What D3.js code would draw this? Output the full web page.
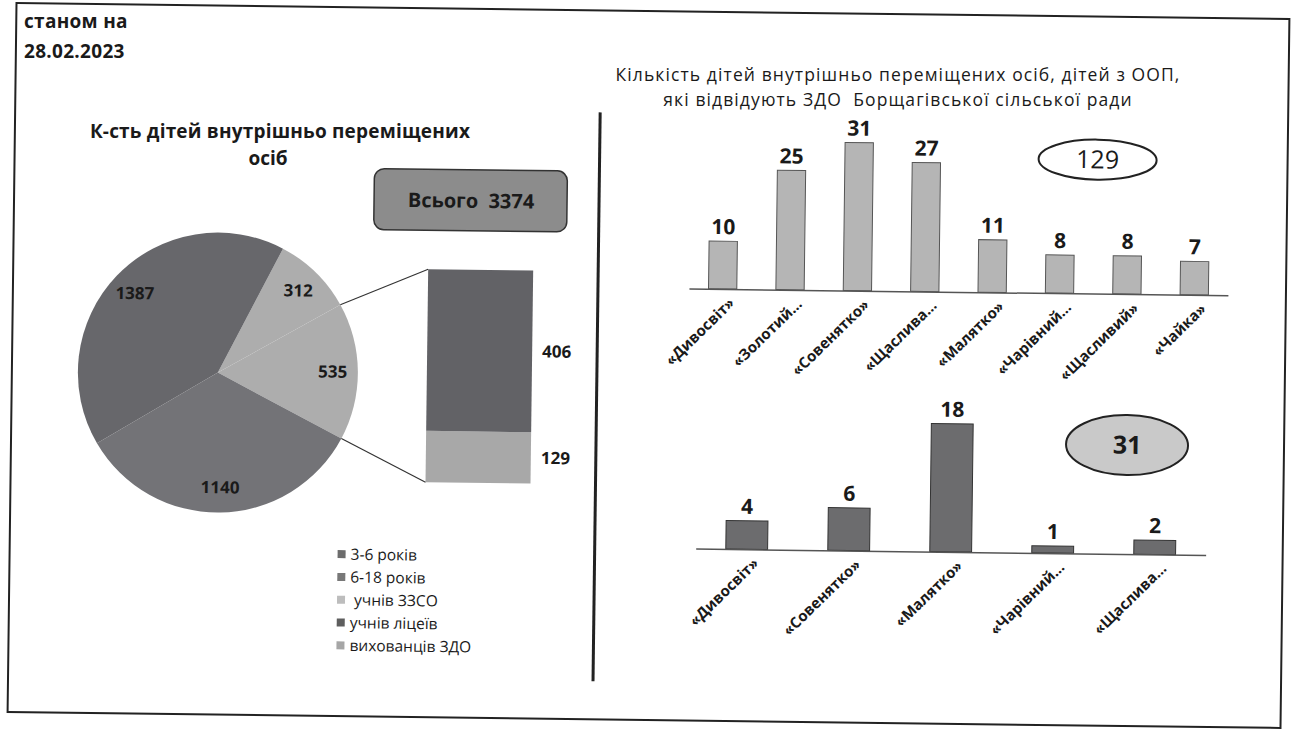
<!DOCTYPE html>
<html>
<head>
<meta charset="utf-8">
<script src="https://cdn.jsdelivr.net/npm/d3@7"></script>
<style>
  body { margin: 0; background: #fff; }
  svg { display: block; }
  text { font-family: "Open Sans", "Noto Sans", sans-serif; fill: #1a1a1a; }
</style>
</head>
<body>
<svg id="chart" width="1296" height="731"></svg>
<script>
// pie: groups of displaced children
var pieCategories = ["3-6 років", "6-18 років", " учнів ЗЗСО", "учнів ліцеїв", "вихованців ЗДО"];
var pieValues = [1387, 1140, 312, 406, 129];
var pieTotal = 3374;
// slices in clockwise order as they appear, the last two are merged into one slice
var sliceLabels = ["312", "535", "1140", "1387"];
var sliceValues = [312, 406 + 129, 1140, 1387];
// split bar on the right of the pie
var splitLabels = ["129", "406"];
var splitValues = [129, 406];

// top bar chart
var topCategories = ["«Дивосвіт»", "«Золотий…", "«Совенятко»", "«Щаслива…", "«Малятко»", "«Чарівний…", "«Щасливий»", "«Чайка»"];
var topValues = [10, 25, 31, 27, 11, 8, 8, 7];
var topTotal = 129;

// bottom bar chart
var bottomCategories = ["«Дивосвіт»", "«Совенятко»", "«Малятко»", "«Чарівний…", "«Щаслива…"];
var bottomValues = [4, 6, 18, 1, 2];
var bottomTotal = 31;

var svg = d3.select("#chart");
// the scanned page is slightly rotated
var page = svg.append("g").attr("transform", "rotate(0.72,648,365)");
// titles are kept level so their lines don't run into each other
var titles = svg.append("g");

// frame
page.append("rect").attr("x", 12).attr("y", 11).attr("width", 1273).attr("height", 709)
  .attr("fill", "none").attr("stroke", "#222").attr("stroke-width", 2);

titles.append("text").attr("x", 24).attr("y", 28).attr("font-size", 19).attr("font-weight", "bold")
  .attr("letter-spacing", 0.3).text("станом на");
titles.append("text").attr("x", 24).attr("y", 58).attr("font-size", 19).attr("font-weight", "bold")
  .attr("letter-spacing", 0.3).text("28.02.2023");

//////////////////// pie
titles.append("text").attr("x", 280).attr("y", 138).attr("text-anchor", "middle")
  .attr("font-size", 19).attr("font-weight", "bold").attr("letter-spacing", 0.2)
  .text("К-сть дітей внутрішньо переміщених");
titles.append("text").attr("x", 268).attr("y", 164.5).attr("text-anchor", "middle")
  .attr("font-size", 19).attr("font-weight", "bold").text("осіб");

// total box
page.append("rect").attr("x", 372).attr("y", 172).attr("width", 193).attr("height", 61).attr("rx", 10)
  .attr("fill", "#8c8c8c").attr("stroke", "#333").attr("stroke-width", 1.5);
page.append("text").attr("x", 469).attr("y", 210).attr("text-anchor", "middle")
  .attr("font-size", 20).attr("font-weight", "bold").attr("xml:space", "preserve")
  .text("Всього  " + pieTotal);

var cx = 218, cy = 378, r = 140;
var startAngle = 27 * Math.PI / 180;
var sliceColors = ["#adadad", "#adadad", "#737377", "#67676b"];

var pie = d3.pie().sort(null).startAngle(startAngle).endAngle(startAngle + 2 * Math.PI);
var arcs = pie(sliceValues);
var arc = d3.arc().innerRadius(0).outerRadius(r);
var labelArc = d3.arc().innerRadius(r * 0.82).outerRadius(r * 0.82);

var pieG = page.append("g").attr("transform", "translate(" + cx + "," + cy + ")");
pieG.selectAll("path").data(arcs).enter().append("path")
  .attr("d", arc)
  .attr("fill", function(d, i) { return sliceColors[i]; });
pieG.selectAll("text").data(arcs).enter().append("text")
  .attr("transform", function(d) { return "translate(" + labelArc.centroid(d) + ")"; })
  .attr("text-anchor", "middle").attr("dy", "0.35em")
  .attr("font-size", 17).attr("font-weight", "bold")
  .text(function(d, i) { return sliceLabels[i]; });

// bar that splits the 535 slice
var barX = 427, barW = 105;
var splitY = d3.scaleLinear().domain([0, d3.sum(splitValues)]).range([485, 272]);
var stack = [];
var acc = 0;
for (var i = 0; i < splitValues.length; i++) {
  stack.push({ v0: acc, v1: acc + splitValues[i], label: splitLabels[i] });
  acc += splitValues[i];
}
var splitColors = ["#a8a8a8", "#626266"];
page.selectAll(".split").data(stack).enter().append("rect").attr("class", "split")
  .attr("x", barX).attr("width", barW)
  .attr("y", function(d) { return splitY(d.v1); })
  .attr("height", function(d) { return splitY(d.v0) - splitY(d.v1); })
  .attr("fill", function(d, i) { return splitColors[i]; });
page.selectAll(".splitLabel").data(stack).enter().append("text").attr("class", "splitLabel")
  .attr("x", barX + barW + 10)
  .attr("y", function(d) { return (splitY(d.v0) + splitY(d.v1)) / 2; })
  .attr("dy", "0.35em").attr("font-size", 17).attr("font-weight", "bold")
  .text(function(d) { return d.label; });

// connector lines from the merged slice to the bar
var other = arcs[1];
function onCircle(a) { return [cx + r * Math.sin(a), cy - r * Math.cos(a)]; }
var p1 = onCircle(other.startAngle), p2 = onCircle(other.endAngle);
page.append("line").attr("x1", p1[0]).attr("y1", p1[1]).attr("x2", barX).attr("y2", splitY.range()[1])
  .attr("stroke", "#333").attr("stroke-width", 1.2);
page.append("line").attr("x1", p2[0]).attr("y1", p2[1]).attr("x2", barX).attr("y2", splitY.range()[0])
  .attr("stroke", "#333").attr("stroke-width", 1.2);

// legend
var legendColors = ["#6c6c6c", "#787878", "#bdbdbd", "#5e5e5e", "#a6a6a6"];
var legend = page.selectAll(".legend").data(pieCategories).enter().append("g").attr("class", "legend")
  .attr("transform", function(d, i) { return "translate(340," + (558 + i * 22.8) + ")"; });
legend.append("rect").attr("x", 0).attr("y", -4).attr("width", 8).attr("height", 8)
  .attr("fill", function(d, i) { return legendColors[i]; });
legend.append("text").attr("x", 13).attr("y", 5.5).attr("font-size", 15.5).attr("xml:space", "preserve")
  .text(function(d) { return d; });

// divider
page.append("line").attr("x1", 597).attr("y1", 113).attr("x2", 597).attr("y2", 682)
  .attr("stroke", "#222").attr("stroke-width", 3);

//////////////////// bar charts
titles.append("text").attr("x", 898).attr("y", 81).attr("text-anchor", "middle").attr("font-size", 17.5)
  .attr("letter-spacing", 1.1)
  .text("Кількість дітей внутрішньо переміщених осіб, дітей з ООП,");
titles.append("text").attr("x", 898).attr("y", 106).attr("text-anchor", "middle").attr("font-size", 17.5)
  .attr("letter-spacing", 1.1).attr("xml:space", "preserve")
  .text("які відвідують ЗДО  Борщагівської сільської ради");

function barChart(cats, vals, opt) {
  var x = d3.scaleBand().domain(cats).range([opt.x0, opt.x1]).paddingInner(opt.pad).paddingOuter(opt.pad / 2);
  var y = d3.scaleLinear().domain([0, opt.max]).range([opt.base, opt.top]);
  var g = page.append("g");

  g.selectAll("rect").data(vals).enter().append("rect")
    .attr("x", function(d, i) { return x(cats[i]); })
    .attr("y", function(d) { return y(d); })
    .attr("width", x.bandwidth())
    .attr("height", function(d) { return opt.base - y(d); })
    .attr("fill", opt.fill).attr("stroke", opt.stroke).attr("stroke-width", 1);

  g.selectAll(".val").data(vals).enter().append("text").attr("class", "val")
    .attr("x", function(d, i) { return x(cats[i]) + x.bandwidth() / 2; })
    .attr("y", function(d) { return y(d) - 7; })
    .attr("text-anchor", "middle").attr("font-size", 21).attr("font-weight", "bold")
    .text(function(d) { return d; });

  var axis = g.append("g").attr("transform", "translate(0," + opt.base + ")")
    .call(d3.axisBottom(x).tickSize(0).tickSizeOuter(0));
  axis.select(".domain").attr("stroke", "#555").attr("stroke-width", 1.5);
  axis.selectAll("text")
    .attr("x", 0).attr("y", 0).attr("dy", 0)
    .attr("transform", "translate(13,15) rotate(-45)")
    .style("text-anchor", "end")
    .attr("font-size", 15).attr("font-weight", "bold").attr("fill", "#1a1a1a")
    .attr("font-family", "'Open Sans', sans-serif");
}

barChart(topCategories, topValues, {
  x0: 688, x1: 1227, pad: 0.58, base: 288, top: 140, max: 31,
  fill: "#b5b5b5", stroke: "#555"
});
barChart(bottomCategories, bottomValues, {
  x0: 698, x1: 1208, pad: 0.59, base: 548, top: 420, max: 18,
  fill: "#6c6c6e", stroke: "#333"
});

// totals in ovals
page.append("ellipse").attr("cx", 1095).attr("cy", 154).attr("rx", 59).attr("ry", 20)
  .attr("fill", "#fff").attr("stroke", "#222").attr("stroke-width", 2);
page.append("text").attr("x", 1095).attr("y", 154).attr("dy", "0.35em").attr("text-anchor", "middle")
  .attr("font-size", 25).text(topTotal);
page.append("ellipse").attr("cx", 1128).attr("cy", 439).attr("rx", 61).attr("ry", 30)
  .attr("fill", "#c9c9c9").attr("stroke", "#222").attr("stroke-width", 2);
page.append("text").attr("x", 1128).attr("y", 439).attr("dy", "0.35em").attr("text-anchor", "middle")
  .attr("font-size", 25).attr("font-weight", "bold").text(bottomTotal);
</script>
</body>
</html>
